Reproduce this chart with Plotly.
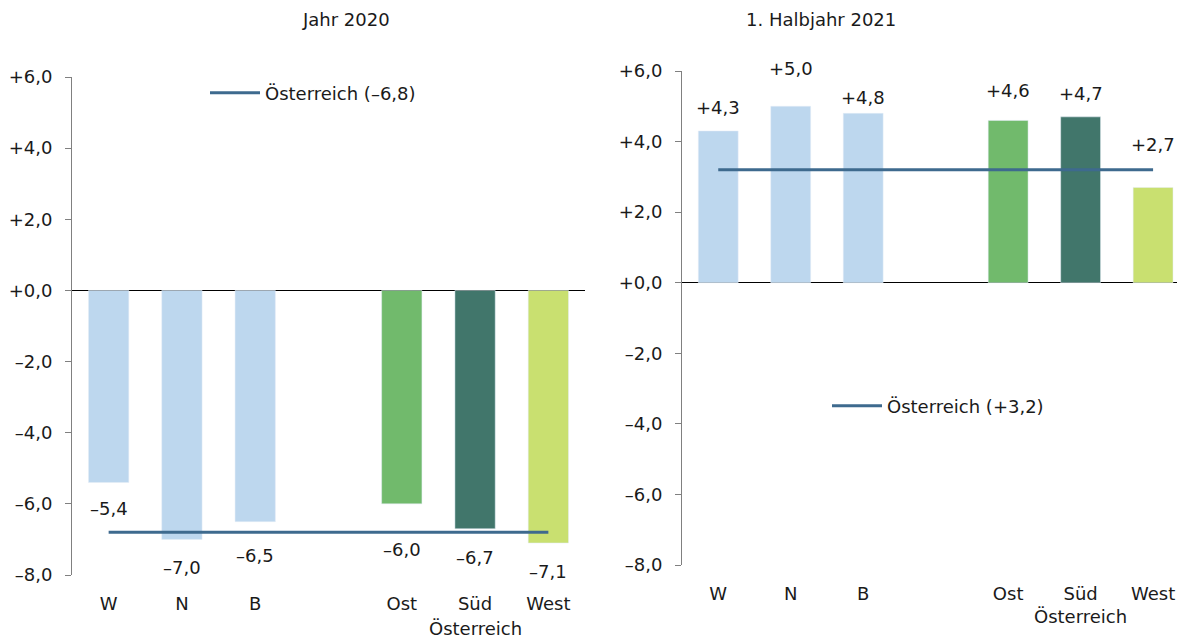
import plotly.graph_objects as go

categories = ["W", "N", "B", " ", "Ost", "Süd", "West"]
values_2020 = [-5.4, -7.0, -6.5, None, -6.0, -6.7, -7.1]
values_2021 = [4.3, 5.0, 4.8, None, 4.6, 4.7, 2.7]
austria_2020 = -6.8
austria_2021 = 3.2
titles = ["Jahr 2020", "1. Halbjahr 2021"]
group_label = "Österreich"
y_ticks = [6, 4, 2, 0, -2, -4, -6, -8]

bar_colors = ["#BDD7EE", "#BDD7EE", "#BDD7EE", "#FFFFFF", "#71BA6C", "#41766B", "#C9E070"]
line_color = "#3E6A8E"
# label vertical offsets (px) mimicking the manual placement in the original
shift_2020 = [-26, -28, -34, 0, -46, -29, -29]
shift_2021 = [23, 38, 16, 0, 30, 23, 43]

FONT = "DejaVu Sans"
FS = 18
TXT = "#1a1a1a"
W, H = 1177, 638


def fmt(v):
    s = f"{abs(v):.1f}".replace(".", ",")
    return ("+" if v >= 0 else "\u2013") + s


fig = go.Figure()

fig.add_trace(go.Bar(x=categories, y=values_2020, marker_color=bar_colors, width=0.55,
                     showlegend=False, xaxis="x", yaxis="y", hoverinfo="skip"))
fig.add_trace(go.Bar(x=categories, y=values_2021, marker_color=bar_colors, width=0.55,
                     showlegend=False, xaxis="x2", yaxis="y2", hoverinfo="skip"))

fig.add_trace(go.Scatter(x=[categories[0], categories[-1]], y=[austria_2020] * 2, mode="lines",
                         line=dict(color=line_color, width=3),
                         name=f"{group_label} ({fmt(austria_2020)})",
                         xaxis="x", yaxis="y", legend="legend", hoverinfo="skip"))
fig.add_trace(go.Scatter(x=[categories[0], categories[-1]], y=[austria_2021] * 2, mode="lines",
                         line=dict(color=line_color, width=3),
                         name=f"{group_label} ({fmt(austria_2021)})",
                         xaxis="x2", yaxis="y2", legend="legend2", hoverinfo="skip"))

annotations = []
for xa, ya, vals, shifts in (("x", "y", values_2020, shift_2020), ("x2", "y2", values_2021, shift_2021)):
    for c, v, s in zip(categories, vals, shifts):
        if v is None:
            continue
        annotations.append(dict(x=c, y=v, xref=xa, yref=ya, text=fmt(v), showarrow=False,
                                yshift=s, font=dict(size=FS, color=TXT, family=FONT)))

annotations.append(dict(x="Süd", xref="x", y=(H - 628) / H, yref="paper", yanchor="middle",
                        text=group_label, showarrow=False, font=dict(size=FS, color=TXT, family=FONT)))
annotations.append(dict(x="Süd", xref="x2", y=(H - 616) / H, yref="paper", yanchor="middle",
                        text=group_label, showarrow=False, font=dict(size=FS, color=TXT, family=FONT)))
annotations.append(dict(x=300 / W, y=1 - 20 / H, xref="paper", yref="paper", yanchor="middle",
                        text=titles[0], showarrow=False, font=dict(size=FS, color=TXT, family=FONT)))
annotations.append(dict(x=898 / W, y=1 - 20 / H, xref="paper", yref="paper", yanchor="middle",
                        text=titles[1], showarrow=False, font=dict(size=FS, color=TXT, family=FONT)))

yaxis_common = dict(range=[-8, 6], tickvals=y_ticks, ticktext=[fmt(v) for v in y_ticks],
                    showgrid=False, zeroline=True, zerolinecolor="black", zerolinewidth=1,
                    showline=True, linecolor="#808080", linewidth=1,
                    ticks="outside", ticklen=6, tickcolor="#808080", ticklabelstandoff=9,
                    tickfont=dict(size=FS, color=TXT, family=FONT), fixedrange=True, automargin=False)
xaxis_common = dict(type="category", categoryorder="array", categoryarray=categories,
                    tickvals=[c for c in categories if c.strip()], showgrid=False, showline=False,
                    zeroline=False, ticks="", ticklabelstandoff=16, automargin=False,
                    tickfont=dict(size=FS, color=TXT, family=FONT), fixedrange=True)

fig.update_layout(
    width=W, height=H,
    margin=dict(l=0, r=0, t=0, b=0, pad=0, autoexpand=False),
    plot_bgcolor="white", paper_bgcolor="white",
    font=dict(family=FONT, size=FS, color=TXT),
    xaxis=dict(domain=[72 / W, 585 / W], range=[-0.5, 6.5], anchor="y", **xaxis_common),
    yaxis=dict(domain=[(H - 575) / H, (H - 77) / H], anchor="x", **yaxis_common),
    xaxis2=dict(domain=[682 / W, 1.0], range=[-0.5, 6.33], anchor="y2", **xaxis_common),
    yaxis2=dict(domain=[(H - 565) / H, (H - 71) / H], anchor="x2", **yaxis_common),
    legend=dict(x=205 / W, y=1 - 93 / H, xanchor="left", yanchor="middle", bgcolor="rgba(0,0,0,0)",
                font=dict(size=FS, family=FONT, color=TXT), itemwidth=50),
    legend2=dict(x=827 / W, y=1 - 406 / H, xanchor="left", yanchor="middle", bgcolor="rgba(0,0,0,0)",
                 font=dict(size=FS, family=FONT, color=TXT), itemwidth=50),
    annotations=annotations,
    showlegend=True,
    hovermode=False,
)

fig.write_html("out.html", config={"displayModeBar": False},
               post_script="document.body.style.margin='0';document.body.style.overflow='hidden';")
